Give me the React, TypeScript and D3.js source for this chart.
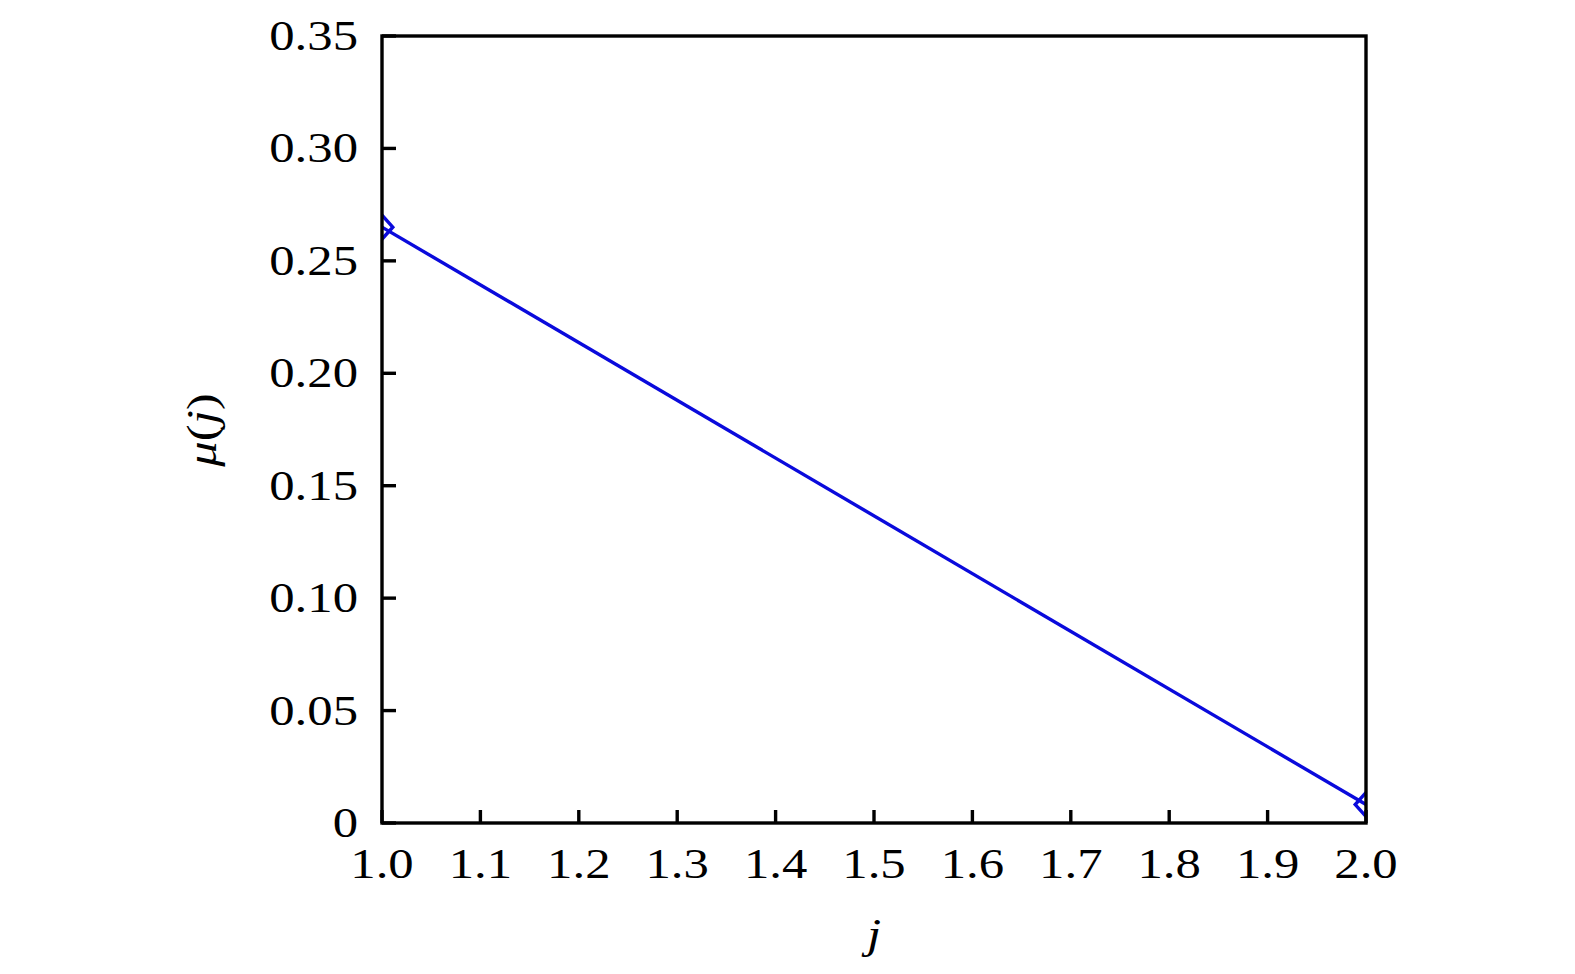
import React from "react";
import * as d3 from "d3";

const jValues = [1.0, 2.0];
const muValues = [0.265, 0.0082];
const xTicks = [1.0, 1.1, 1.2, 1.3, 1.4, 1.5, 1.6, 1.7, 1.8, 1.9, 2.0];
const yTicks = [0, 0.05, 0.1, 0.15, 0.2, 0.25, 0.3, 0.35];

const W = 1575, H = 974;
const L = 382, R = 1366, T = 36, B = 823;
const FONT = "'Liberation Serif', 'DejaVu Serif', serif";
const SX = 1.18;
const FS = 43;
const SW = 3.4;

export default function App() {
  const x = d3.scaleLinear().domain([1, 2]).range([L, R]);
  const y = d3.scaleLinear().domain([0, 0.35]).range([B, T]);
  const pts = jValues.map((j, i) => [x(j), y(muValues[i])] as [number, number]);
  const line = d3.line()(pts) || "";
  const d = 12;
  return (
    <svg width={W} height={H} style={{ position: "absolute", left: 0, top: 0, background: "#fff" }}>
      <defs>
        <clipPath id="clip">
          <rect x={L} y={T} width={R - L} height={B - T} />
        </clipPath>
      </defs>
      <g clipPath="url(#clip)">
        <path d={line} fill="none" stroke="#0a0adc" strokeWidth={SW} />
        {pts.map((p, i) => (
          <path key={i}
            d={`M${p[0]},${p[1] - d} L${p[0] + d * 0.9},${p[1]} L${p[0]},${p[1] + d} L${p[0] - d * 0.9},${p[1]} Z`}
            fill="none" stroke="#0a0adc" strokeWidth={SW} />
        ))}
      </g>
      <rect x={L} y={T} width={R - L} height={B - T} fill="none" stroke="#000" strokeWidth={SW} />
      {xTicks.map((t) => (
        <g key={"x" + t}>
          <line x1={x(t)} x2={x(t)} y1={B} y2={B - 13} stroke="#000" strokeWidth={SW} />
          <g transform={`translate(${x(t)},${878}) scale(${SX},1)`}>
            <text textAnchor="middle" fontFamily={FONT} fontSize={FS} fill="#000">{t.toFixed(1)}</text>
          </g>
        </g>
      ))}
      {yTicks.map((t) => (
        <g key={"y" + t}>
          <line x1={L} x2={L + 14} y1={y(t)} y2={y(t)} stroke="#000" strokeWidth={SW} />
          <g transform={`translate(${358},${y(t) + 14}) scale(${SX},1)`}>
            <text textAnchor="end" fontFamily={FONT} fontSize={FS} fill="#000">{t === 0 ? "0" : t.toFixed(2)}</text>
          </g>
        </g>
      ))}
      <g transform={`translate(${874},${948}) scale(${SX},1)`}>
        <text textAnchor="middle" fontFamily={FONT} fontSize={FS} fontStyle="italic" fill="#000">j</text>
      </g>
      <g transform={`translate(${216},${430}) rotate(-90) scale(${SX},1)`}>
        <text textAnchor="middle" fontFamily={FONT} fontSize={FS} fill="#000">
          <tspan fontStyle="italic">μ</tspan>(<tspan fontStyle="italic">j</tspan>)
        </text>
      </g>
    </svg>
  );
}
